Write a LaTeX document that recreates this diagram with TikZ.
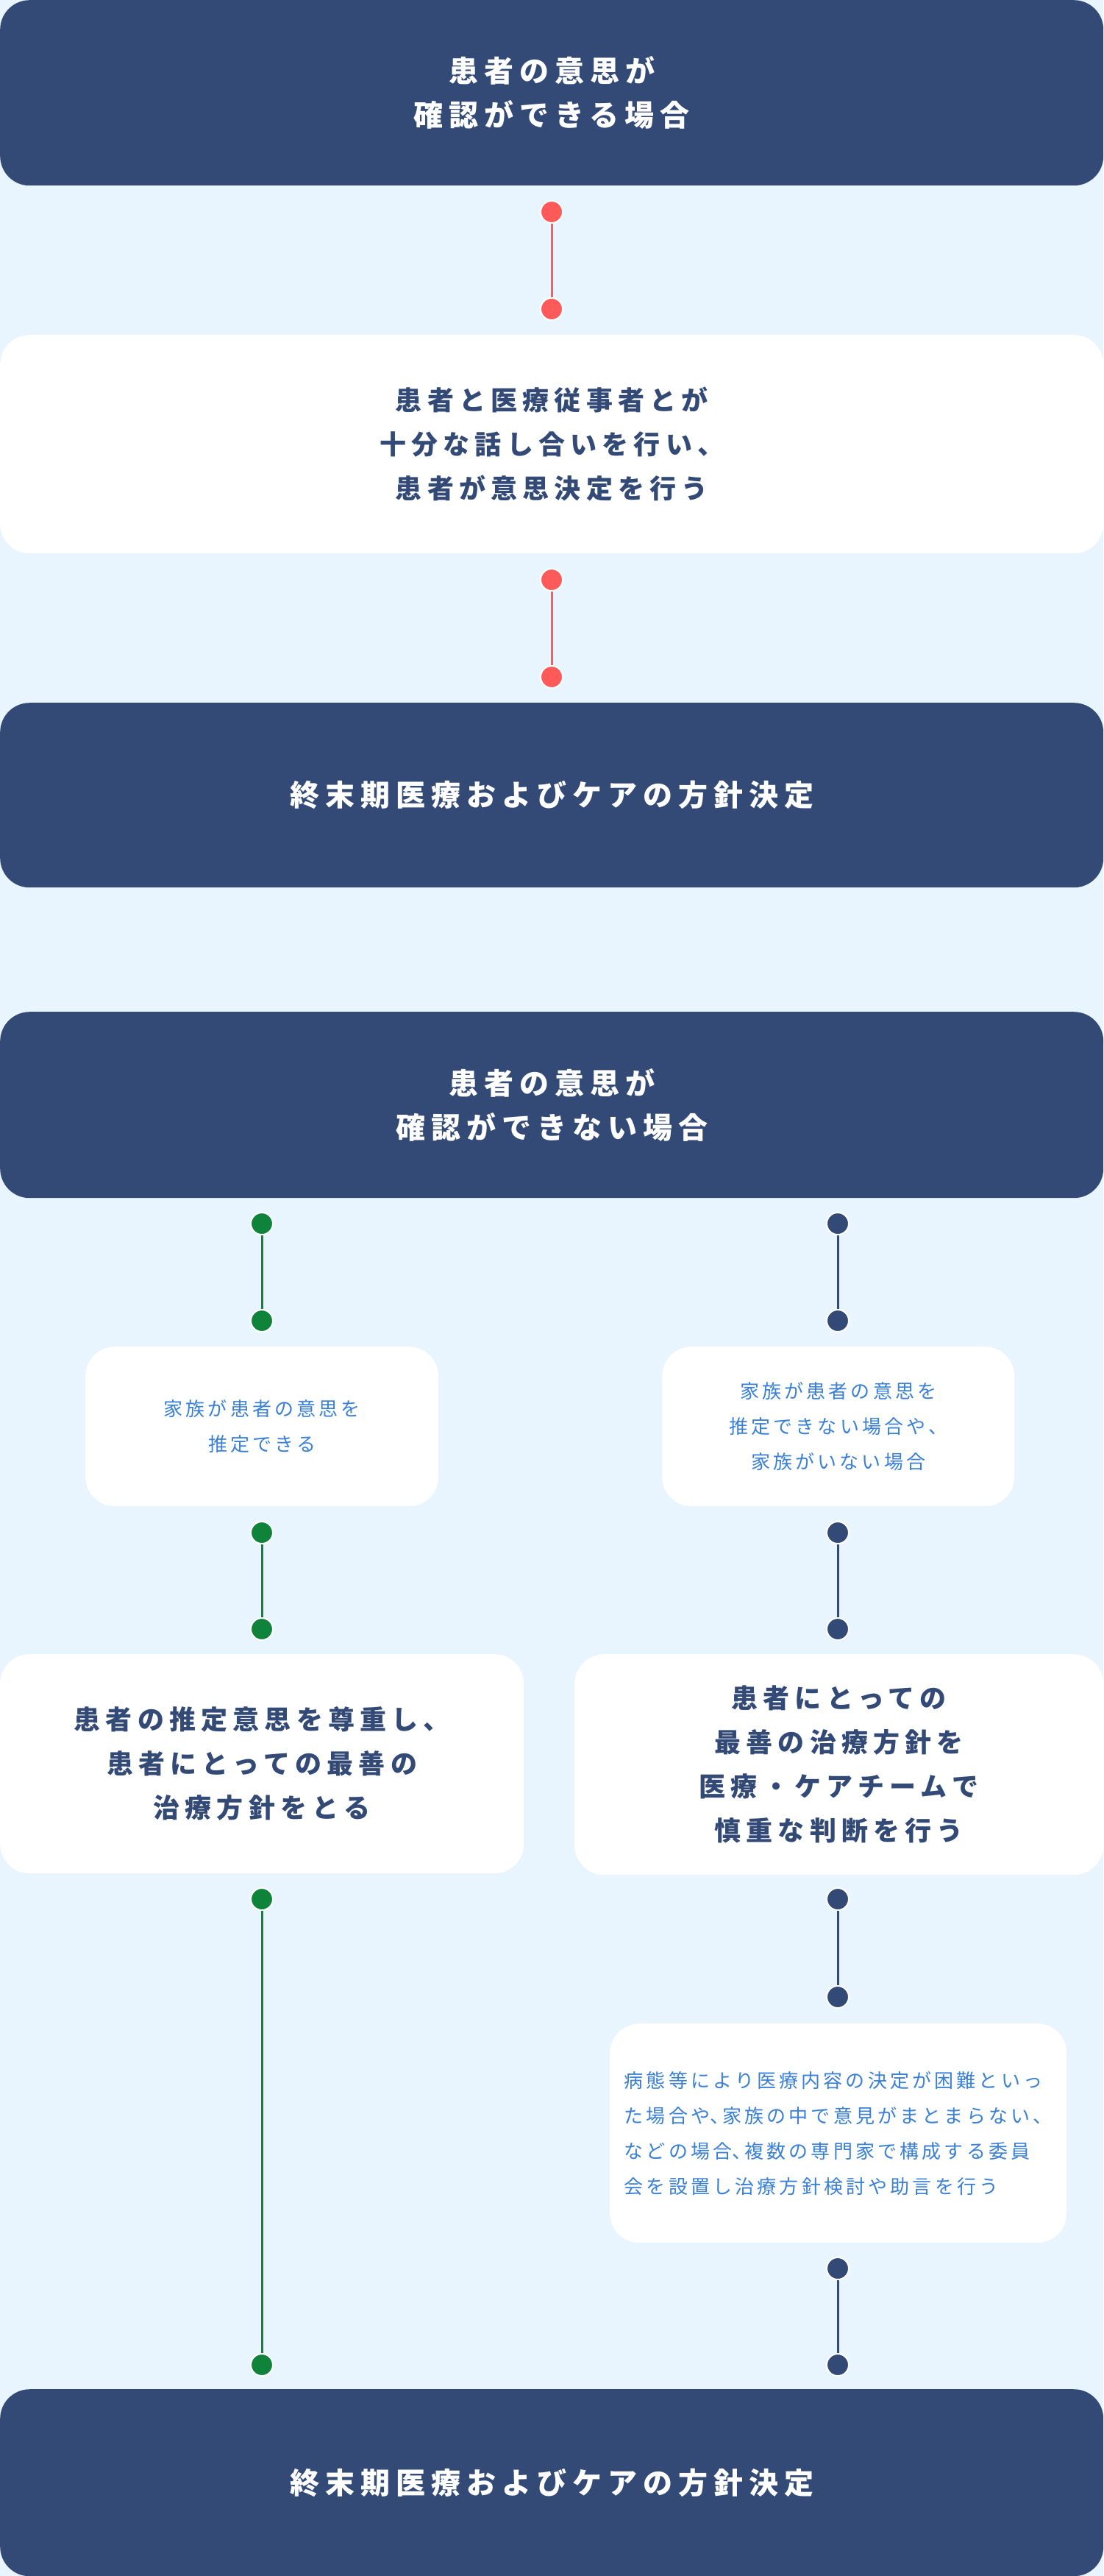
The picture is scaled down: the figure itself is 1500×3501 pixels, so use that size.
\documentclass[tikz,border=0pt]{standalone}
\usepackage{fontspec}
\newfontfamily\jph{Noto Sans CJK JP}[LetterSpace=20]
\newfontfamily\jps{Noto Sans CJK JP}[LetterSpace=16]
\definecolor{navy}{HTML}{324A75}
\definecolor{bgblue}{HTML}{E8F4FE}
\definecolor{lblue}{HTML}{3A80D6}
\definecolor{dred}{HTML}{FF5A5A}
\definecolor{dgreen}{HTML}{10833A}
\newcommand{\hc}{\makebox[17pt][l]{、}}
\begin{document}
\begin{tikzpicture}[x=1pt,y=-1pt,
  box/.style={rounded corners=40pt, inner sep=0pt, anchor=north west},
  darkbox/.style={box, fill=navy, text=white, align=center, font=\jph\bfseries\fontsize{40}{60}\selectfont},
  whitebox/.style={box, fill=white, text=navy, align=center, font=\jph\bfseries\fontsize{36}{60}\selectfont},
  smallbox/.style={box, fill=white, text=lblue, align=center, font=\jps\fontsize{26}{48}\selectfont},
  dotnode/.style={circle, draw=white, line width=2pt, inner sep=0pt, minimum size=30pt},
  rdot/.style={dotnode, fill=dred},
  gdot/.style={dotnode, fill=dgreen},
  ndot/.style={dotnode, fill=navy},
  rline/.style={draw=dred, line width=3pt},
  gline/.style={draw=dgreen, line width=3pt},
  nline/.style={draw=navy, line width=3pt}]
\fill[bgblue] (0,0) rectangle (1500,3501);
\useasboundingbox (0,0) rectangle (1500,3501);

% boxes
\node[darkbox, minimum width=1500pt, minimum height=252pt] (top) at (0,0) {患者の意思が\\確認ができる場合};
\node[whitebox, minimum width=1500pt, minimum height=297pt] (b1) at (0,455) {患者と医療従事者とが\\十分な話し合いを行い、\\患者が意思決定を行う};
\node[darkbox, minimum width=1500pt, minimum height=251pt] (b2) at (0,955) {終末期医療およびケアの方針決定};
\node[darkbox, minimum width=1500pt, minimum height=253pt] (b3) at (0,1375) {患者の意思が\\確認ができない場合};
\node[smallbox, minimum width=480pt, minimum height=217pt] (sL) at (116,1830) {家族が患者の意思を\\推定できる};
\node[smallbox, minimum width=479pt, minimum height=217pt] (sR) at (900,1830) {家族が患者の意思を\\推定できない場合や、\\家族がいない場合};
\node[whitebox, minimum width=712pt, minimum height=298pt] (mL) at (0,2248) {患者の推定意思を尊重し、\\患者にとっての最善の\\治療方針をとる};
\node[whitebox, minimum width=719pt, minimum height=300pt] (mR) at (781,2248) {患者にとっての\\最善の治療方針を\\医療・ケアチームで\\慎重な判断を行う};
\node[smallbox, align=left, minimum width=621pt, minimum height=298pt] (bx) at (829,2750) {病態等により医療内容の決定が困難といっ\\た場合や\hc 家族の中で意見がまとまらない、\\などの場合\hc 複数の専門家で構成する委員\\会を設置し治療方針検討や助言を行う};
\node[darkbox, minimum width=1500pt, minimum height=254pt] (bot) at (0,3247) {終末期医療およびケアの方針決定};

% dots
\node[rdot] (r1) at (750,288) {};
\node[rdot] (r2) at (750,420) {};
\node[rdot] (r3) at (750,788) {};
\node[rdot] (r4) at (750,920) {};

\node[gdot] (g1) at (356,1663) {};
\node[gdot] (g2) at (356,1795) {};
\node[gdot] (g3) at (356,2083) {};
\node[gdot] (g4) at (356,2214) {};
\node[gdot] (g5) at (356,2581) {};
\node[gdot] (g6) at (356,3214) {};

\node[ndot] (n1) at (1139,1663) {};
\node[ndot] (n2) at (1139,1795) {};
\node[ndot] (n3) at (1139,2083) {};
\node[ndot] (n4) at (1139,2214) {};
\node[ndot] (n5) at (1139,2581) {};
\node[ndot] (n6) at (1139,2714) {};
\node[ndot] (n7) at (1139,3083) {};
\node[ndot] (n8) at (1139,3214) {};

% connectors
\draw[rline] (r1) -- (r2);
\draw[rline] (r3) -- (r4);
\draw[gline] (g1) -- (g2);
\draw[gline] (g3) -- (g4);
\draw[gline] (g5) -- (g6);
\draw[nline] (n1) -- (n2);
\draw[nline] (n3) -- (n4);
\draw[nline] (n5) -- (n6);
\draw[nline] (n7) -- (n8);
\end{tikzpicture}
\end{document}
